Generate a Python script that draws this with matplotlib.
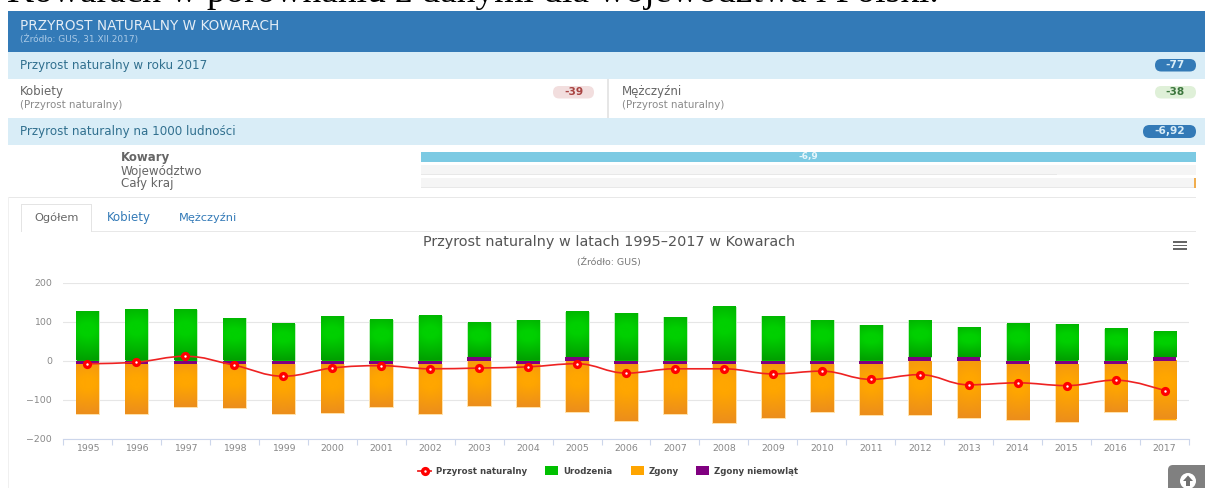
#!/usr/bin/env python3
"""Przyrost naturalny w Kowarach - panel ze strony i wykres 1995-2017"""

import matplotlib
matplotlib.use('Agg')
import matplotlib.pyplot as plt
import numpy as np
from matplotlib.patches import Rectangle, FancyBboxPatch, Circle, PathPatch, Polygon
from matplotlib.path import Path
from matplotlib.colors import LinearSegmentedColormap

W, H = 1205, 488
PX = 0.72  # font size: px -> pt at dpi 100

years = list(range(1995, 2018))
births = [126, 130, 130, 108, 95, 113, 104, 114, 89, 103, 117, 121, 111, 138, 113, 103, 90, 95, 77, 95, 93, 81, 66]
deaths = [-128, -130, -111, -114, -128, -126, -111, -130, -117, -112, -132, -146, -128, -153, -139, -124, -131, -139, -147, -144, -149, -124, -151]
infant = [-8, -8, -8, -8, -8, -8, -8, -8, 8, -8, 8, -8, -8, -8, -8, -8, -8, 8, 8, -8, -8, -8, 8]
growth = [-8, -4, 11, -12, -40, -19, -13, -21, -19, -16, -8, -32, -21, -21, -34, -27, -48, -36, -62, -57, -64, -50, -77]
y_ticks = [-200, -100, 0, 100, 200]
legend_names = ['Przyrost naturalny', 'Urodzenia', 'Zgony', 'Zgony niemowląt']

BLUE = '#337ab7'
LIGHT = '#d9edf7'
INFO = '#31708f'
GRAY = '#666666'

fig = plt.figure(figsize=(W / 100, H / 100), dpi=100, facecolor='white')

# warstwa w pikselach na cala strone
ui = fig.add_axes([0, 0, 1, 1])
ui.set_xlim(0, W)
ui.set_ylim(H, 0)
ui.axis('off')


def box(x0, x1, y0, y1, color, **kw):
    ui.add_patch(Rectangle((x0, y0), x1 - x0, y1 - y0, facecolor=color, edgecolor='none', **kw))


def label(x, y, s, size, color=GRAY, **kw):
    kw.setdefault('va', 'center')
    ui.text(x, y, s, fontsize=size * PX, color=color, **kw)


def badge(x0, x1, y0, y1, color, s, text_color):
    r = (y1 - y0) / 2
    ui.add_patch(FancyBboxPatch((x0, y0), x1 - x0, y1 - y0,
                                boxstyle=f'round,pad=0,rounding_size={r}',
                                facecolor=color, edgecolor='none', linewidth=0))
    label((x0 + x1) / 2, (y0 + y1) / 2, s, 10.5, color=text_color, ha='center', fontweight='bold')


# tekst artykulu uciety u gory
ui.text(7, 2.5, 'Kowarach w porównaniu z danymi dla województwa i Polski.', family='Liberation Serif',
        fontsize=37.5 * PX, color='black', va='baseline', clip_on=True)

# naglowek
box(8, W, 11, 52, BLUE)
label(20, 26.5, 'PRZYROST NATURALNY W KOWARACH', 13.6, color='#e4edf6')
label(20, 39, '(Źródło: GUS, 31.XII.2017)', 9, color='#a9c9e6')

# wiersze
box(8, W, 52, 79, LIGHT)
label(20, 65, 'Przyrost naturalny w roku 2017', 11.9, color=INFO)
badge(1155, 1196, 59, 71.5, BLUE, '-77', LIGHT)

label(20, 92, 'Kobiety', 11.7)
label(20, 105, '(Przyrost naturalny)', 10.3, color='#8a8a8a')
badge(553, 594, 86, 98.5, '#f2dede', '-39', '#a94442')
box(607, 608.5, 79, 118, '#e6e6e6')
label(622, 92, 'Mężczyźni', 11.7)
label(622, 105, '(Przyrost naturalny)', 10.3, color='#8a8a8a')
badge(1155, 1196, 86, 98.5, '#dff0d8', '-38', '#3c763d')

box(8, W, 118, 145, LIGHT)
label(20, 131.5, 'Przyrost naturalny na 1000 ludności', 11.9, color=INFO)
badge(1143, 1196, 125, 138, BLUE, '-6,92', LIGHT)

# paski porownania
label(121, 158, 'Kowary', 11.7, fontweight='bold')
label(121, 171, 'Województwo', 11.9)
label(121, 184, 'Cały kraj', 11.9)
box(421, 1196, 152, 161.5, '#7ccae3')
label(808, 156.5, '-6,9', 9, color='#e8f6fb', ha='center', fontweight='bold')
box(421, 1196, 165, 175, '#f5f5f5')
box(421, 1057, 173.5, 175, '#e8e8e8')
box(421, 1196, 178, 187.5, '#f5f5f5')
box(421, 1196, 186.5, 187.5, '#e8e8e8')
box(1194, 1196, 178, 187.5, '#f0ad4e')
box(8, 1196, 196.5, 197.5, '#e8e8e8')

# zakladki
box(92, 1196, 231, 232, '#e8e8e8')
box(21, 92, 204, 205, '#e4e4e4')
box(21, 22, 204, 232, '#e4e4e4')
box(91, 92, 204, 232, '#e4e4e4')
box(22, 91, 205, 232, 'white')
label(34, 218, 'Ogółem', 11.4)
label(107, 218, 'Kobiety', 11.7, color=BLUE)
label(179, 218, 'Mężczyźni', 11.4, color=BLUE)
box(8, 9, 197, H, '#f0f0f0')

# tytul wykresu
label(609, 242, 'Przyrost naturalny w latach 1995–2017 w Kowarach', 14.4, color='#555555', ha='center')
label(609, 262, '(Źródło: GUS)', 9.4, color='#777777', ha='center')
for yy in (241, 244.5, 248):
    box(1173, 1187, yy, yy + 1.8, '#666666')

# legenda
ui.plot([418, 431], [471, 471], color='#ee2222', lw=1.3)
ui.plot([424.5], [471], 'o', mfc='white', mec='red', mew=2.4, ms=4.2)
label(436, 471, legend_names[0], 8.7, color='#444444', fontweight='bold')
box(545, 558, 465.5, 475, '#00c000')
label(563, 471, legend_names[1], 8.7, color='#444444', fontweight='bold')
box(631, 644, 465.5, 475, '#ffa500')
label(649, 471, legend_names[2], 8.7, color='#444444', fontweight='bold')
box(696, 709, 465.5, 475, '#800080')
label(714, 471, legend_names[3], 8.7, color='#444444', fontweight='bold')

# przycisk do gory
ui.add_patch(FancyBboxPatch((1168, 465), 60, 40, boxstyle='round,pad=0,rounding_size=5',
                            facecolor='#808080', edgecolor='none', linewidth=0))
ui.add_patch(Circle((1188, 481), 8, facecolor='white', edgecolor='none'))
ui.add_patch(Polygon([(1188, 475.5), (1193, 481), (1190, 481), (1190, 486), (1186, 486), (1186, 481), (1183, 481)],
                     facecolor='#707070', edgecolor='none'))

# wykres
ax_left, ax_right, ax_top, ax_bottom = 63, 1189, 282.5, 438.7
ax = fig.add_axes([ax_left / W, 1 - ax_bottom / H, (ax_right - ax_left) / W, (ax_bottom - ax_top) / H])
ax.patch.set_alpha(0)

x = np.arange(len(years))
births_a = np.array(births)
deaths_a = np.array(deaths)
infant_a = np.array(infant)
width = 0.48

green_map = LinearSegmentedColormap.from_list('g', ['#00a000', '#00d000'])
orange_map = LinearSegmentedColormap.from_list('o', ['#ec8e1c', '#ffa600'])
# radialny gradient jak w oryginale, srodek troche wyzej
gy, gx = np.mgrid[-1:1:200j, -1:1:60j]
glow = 1 - np.clip(np.sqrt((gx * 0.4) ** 2 + (gy + 0.25) ** 2) / 1.25, 0, 1)

green_bars = ax.bar(x, births_a, width, bottom=np.clip(infant_a, 0, None), color='#00c000',
                    edgecolor='#bff0bf', linewidth=0.7, zorder=3)
orange_bars = ax.bar(x, deaths_a, width, bottom=np.clip(infant_a, None, 0), color='#ffa500',
                     edgecolor='#ffe2ad', linewidth=0.7, zorder=3)
ax.bar(x, infant_a, width, color='#800080', edgecolor='none', linewidth=0, zorder=4)

for bars, cmap in ((green_bars, green_map), (orange_bars, orange_map)):
    for bar in bars:
        x0, y0, w, h = bar.get_bbox().bounds
        ylo, yhi = min(y0, y0 + h), max(y0, y0 + h)
        ax.imshow(glow, cmap=cmap, vmin=0, vmax=0.8, aspect='auto', zorder=3.2, origin='upper',
                  interpolation='bilinear', extent=(x0 + 0.015, x0 + w - 0.015, ylo + 0.5, yhi - 0.5))

# linia spline (krzywe Beziera przez punkty)
verts = [(x[0], growth[0])]
codes = [Path.MOVETO]
conts = []
for i in range(len(x)):
    if i == 0 or i == len(x) - 1:
        conts.append(((x[i], growth[i]), (x[i], growth[i])))
        continue
    lx = (1.5 * x[i] + x[i - 1]) / 2.5
    ly = (1.5 * growth[i] + growth[i - 1]) / 2.5
    rx = (1.5 * x[i] + x[i + 1]) / 2.5
    ry = (1.5 * growth[i] + growth[i + 1]) / 2.5
    corr = (ry - ly) * (rx - x[i]) / (rx - lx) + growth[i] - ry
    ly += corr
    ry += corr
    if ly > growth[i - 1] and ly > growth[i]:
        ly = max(growth[i - 1], growth[i])
        ry = 2 * growth[i] - ly
    elif ly < growth[i - 1] and ly < growth[i]:
        ly = min(growth[i - 1], growth[i])
        ry = 2 * growth[i] - ly
    if ry > growth[i + 1] and ry > growth[i]:
        ry = max(growth[i + 1], growth[i])
        ly = 2 * growth[i] - ry
    elif ry < growth[i + 1] and ry < growth[i]:
        ry = min(growth[i + 1], growth[i])
        ly = 2 * growth[i] - ry
    conts.append(((lx, ly), (rx, ry)))
for i in range(1, len(x)):
    verts += [conts[i - 1][1], conts[i][0], (x[i], growth[i])]
    codes += [Path.CURVE4] * 3
ax.add_patch(PathPatch(Path(verts, codes), facecolor='none', edgecolor='#ee2222', linewidth=1.2, zorder=5))
ax.plot(x, growth, 'o', mfc='white', mec='red', mew=2.4, ms=4.2, zorder=6, linestyle='none')

ax.set_xlim(-0.5, len(years) - 0.5)
ax.set_ylim(-200, 200)
ax.set_yticks(y_ticks)
ax.set_yticklabels([str(v).replace('-', '\u2212') for v in y_ticks], fontsize=9.4 * PX, color='#888888')
ax.set_xticks(x)
ax.set_xticklabels(years, fontsize=9.4 * PX, color='#888888')
ax.set_xticks(np.arange(-0.5, len(years)), minor=True)
ax.tick_params(axis='x', which='major', length=0, pad=3.5)
ax.tick_params(axis='x', which='minor', length=4, width=0.8, color='#ccd6eb')
ax.tick_params(axis='y', length=0, pad=8)
ax.yaxis.grid(True, color='#e6e6e6', linewidth=0.8, zorder=1)
ax.set_axisbelow(True)
for side in ('top', 'left', 'right'):
    ax.spines[side].set_visible(False)
ax.spines['bottom'].set_color('#ccd6eb')
ax.spines['bottom'].set_linewidth(0.8)

fig.savefig('out.png', dpi=100)
plt.close(fig)
